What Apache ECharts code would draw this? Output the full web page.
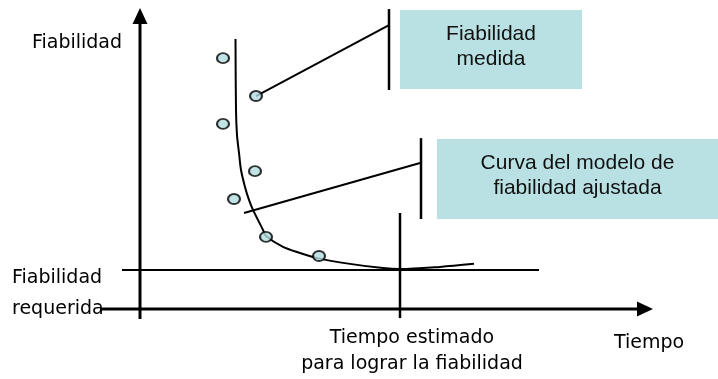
<!DOCTYPE html>
<html>
<head>
<meta charset="utf-8">
<script src="https://cdn.jsdelivr.net/npm/echarts@6.0.0/dist/echarts.min.js"></script>
<style>
  html, body { margin: 0; padding: 0; background: #fff; }
  #chart { width: 718px; height: 379px; }
</style>
</head>
<body>
<div id="chart"></div>
<script>
// medidas de fiabilidad (puntos)
const pointsX = [16.6, 23.2, 16.6, 23.0, 18.8, 25.2, 35.8];
const pointsY = [82.8, 70.3, 61.1, 45.5, 36.3, 23.8, 17.5];

// curva del modelo ajustado
const curveX = [19.1, 19.2, 19.4, 19.8, 20.2, 21.0, 21.8, 22.6, 24.6, 25.2, 28.6, 32.0, 35.4, 42.0, 48.6, 52.0, 60.0, 66.8];
const curveY = [89.1, 65.7, 57.4, 51.5, 45.9, 40.3, 36.0, 32.7, 26.1, 24.1, 20.5, 18.5, 16.8, 14.9, 13.5, 13.2, 13.9, 14.9];

// ejes
const axisXRange = [-8, 101];
const axisYRange = [-3.3, 96.7];

// fiabilidad requerida y tiempo estimado
const requiredLevel = 12.9;
const requiredX = [-3.6, 79.8];
const estimatedTime = 52;
const estimatedY = [-3.0, 31.7];

// lineas de las llamadas
const medidaLineX = [23.2, 49.8];
const medidaLineY = [70.3, 93.7];
const medidaBarX = 49.8;
const medidaBarY = [99.0, 72.3];
const curvaLineX = [20.8, 56.0];
const curvaLineY = [31.7, 48.2];
const curvaBarX = 56.2;
const curvaBarY = [56.4, 29.7];

const labelFont = '"Comic Sans MS", "DejaVu Sans", sans-serif';
const boxFont = '"Liberation Sans", Arial, sans-serif';

function seg(xs, ys) {
  return xs.map((x, i) => [x, ys[i]]);
}

const chart = echarts.init(document.getElementById('chart'));

const plainLine = (name, data, width) => ({
  name: name,
  type: 'line',
  data: data,
  symbol: 'none',
  clip: false,
  silent: true,
  lineStyle: { color: '#000', width: width },
  z: 3
});

const boxLabel = {
  show: true,
  position: 'insideTop',
  distance: 12,
  color: '#111',
  fontSize: 21,
  lineHeight: 25,
  fontFamily: boxFont,
  align: 'center'
};

const arrowRight = 'path://M0,0 L16,7.5 L0,15 Z';
const arrowUp = 'path://M7.5,0 L15,16 L0,16 Z';

const option = {
  animation: false,
  grid: { left: 100, right: 0, top: 0, bottom: 60 },
  xAxis: {
    type: 'value',
    min: -8,
    max: 115.6,
    axisLine: { show: false },
    axisTick: { show: false },
    axisLabel: { show: false },
    splitLine: { show: false }
  },
  yAxis: {
    type: 'value',
    min: -3.3,
    max: 102,
    axisLine: { show: false },
    axisTick: { show: false },
    axisLabel: { show: false },
    splitLine: { show: false }
  },
  series: [
    // eje de tiempo
    Object.assign(plainLine('ejeX', [
      { value: [axisXRange[0], 0], symbol: 'none' },
      { value: [axisXRange[1], 0], symbol: arrowRight, symbolSize: [16, 15] }
    ], 3), { showSymbol: true, itemStyle: { color: '#000' } }),
    // eje de fiabilidad
    Object.assign(plainLine('ejeY', [
      { value: [0, axisYRange[0]], symbol: 'none' },
      { value: [0, axisYRange[1]], symbol: arrowUp, symbolSize: [15, 16] }
    ], 3), { showSymbol: true, itemStyle: { color: '#000' } }),
    plainLine('requerida', [[requiredX[0], requiredLevel], [requiredX[1], requiredLevel]], 2),
    plainLine('estimado', [[estimatedTime, estimatedY[0]], [estimatedTime, estimatedY[1]]], 2.5),
    Object.assign(plainLine('medidaLinea', seg(medidaLineX, medidaLineY), 2), {
      markArea: {
        silent: true,
        itemStyle: { color: '#b9e0e2' },
        label: boxLabel,
        data: [[
          { name: 'Fiabilidad\nmedida', coord: [52, 98.7] },
          { coord: [88.4, 72.6] }
        ]]
      }
    }),
    plainLine('medidaBarra', [[medidaBarX, medidaBarY[0]], [medidaBarX, medidaBarY[1]]], 2.5),
    Object.assign(plainLine('curvaLinea', seg(curvaLineX, curvaLineY), 2), {
      markArea: {
        silent: true,
        itemStyle: { color: '#b9e0e2' },
        label: boxLabel,
        data: [[
          { name: 'Curva del modelo de\nfiabilidad ajustada', coord: [59.4, 56.1] },
          { coord: [115.6, 29.7] }
        ]]
      }
    }),
    plainLine('curvaBarra', [[curvaBarX, curvaBarY[0]], [curvaBarX, curvaBarY[1]]], 2.5),
    {
      name: 'curva',
      type: 'line',
      data: seg(curveX, curveY),
      smooth: 0.3,
      symbol: 'none',
      silent: true,
      lineStyle: { color: '#000', width: 2 },
      z: 4
    },
    {
      name: 'medidas',
      type: 'scatter',
      data: seg(pointsX, pointsY),
      symbol: 'circle',
      symbolSize: [12, 10],
      silent: true,
      itemStyle: { color: '#b3dcde', borderColor: '#000', borderWidth: 2 },
      z: 5
    }
  ],
  graphic: [
    {
      type: 'text',
      style: { text: 'Fiabilidad', x: 77, y: 43, fontSize: 19, fontFamily: labelFont, fill: '#000', align: 'center', verticalAlign: 'middle' }
    },
    {
      type: 'text',
      style: { text: 'Fiabilidad\nrequerida', x: 12, y: 294, fontSize: 19, fontFamily: labelFont, lineHeight: 31, fill: '#000', align: 'left', verticalAlign: 'middle' }
    },
    {
      type: 'text',
      style: { text: 'Tiempo estimado\npara lograr la fiabilidad', x: 412, y: 351, fontSize: 19, fontFamily: labelFont, lineHeight: 26, fill: '#000', align: 'center', verticalAlign: 'middle' }
    },
    {
      type: 'text',
      style: { text: 'Tiempo', x: 649, y: 343, fontSize: 19, fontFamily: labelFont, fill: '#000', align: 'center', verticalAlign: 'middle' }
    }
  ]
};

chart.setOption(option);
</script>
</body>
</html>
